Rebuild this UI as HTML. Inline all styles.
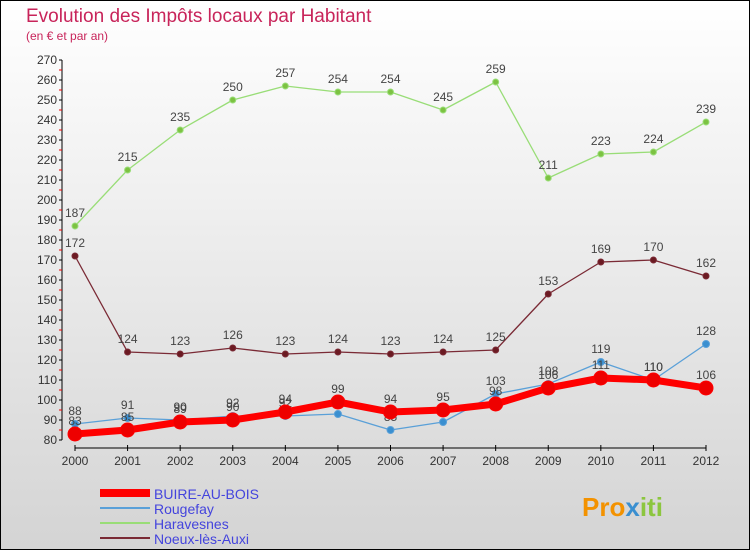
<!DOCTYPE html>
<html><head><meta charset="utf-8"><style>
body{margin:0;width:750px;height:550px;overflow:hidden;font-family:"Liberation Sans",sans-serif}
</style></head><body>
<svg id="c" width="750" height="550" xmlns="http://www.w3.org/2000/svg">
<defs><linearGradient id="bg" x1="0" y1="0" x2="0" y2="1"><stop offset="0" stop-color="#ffffff"/><stop offset="1" stop-color="#d4d4d4"/></linearGradient></defs>
<rect x="0.5" y="0.5" width="749" height="549" fill="url(#bg)" stroke="#000"/>
<text x="26" y="22" font-size="19" fill="#c8245a">Evolution des Impôts locaux par Habitant</text>
<text x="26" y="40" font-size="12" fill="#c8245a">(en € et par an)</text>
<g id="axes"></g><g id="series"></g><g id="legend"></g>
<text x="582" y="516" font-size="26" font-weight="bold" fill="#f39200">Pro<tspan fill="#3a8fd0">x</tspan><tspan fill="#8cc63f">iti</tspan></text>
</svg>
<script>
const years=[2000,2001,2002,2003,2004,2005,2006,2007,2008,2009,2010,2011,2012];
const buire=[83,85,89,90,94,99,94,95,98,106,111,110,106];
const rougefay=[88,91,90,92,92,93,85,89,103,108,119,110,128];
const haravesnes=[187,215,235,250,257,254,254,245,259,211,223,224,239];
const noeux=[172,124,123,126,123,124,123,124,125,153,169,170,162];
const yTicks=[80,90,100,110,120,130,140,150,160,170,180,190,200,210,220,230,240,250,260,270];
const NS="http://www.w3.org/2000/svg";
const X=i=>75+i*(706-75)/(years.length-1);
const Y=v=>440-(v-80)*2;
function mk(t,a,p){const e=document.createElementNS(NS,t);for(const k in a)e.setAttribute(k,a[k]);p.appendChild(e);return e;}
const ax=document.getElementById('axes');
let l=mk('line',{x1:62,y1:Y(270),x2:62,y2:440,stroke:'#000'},ax);


l=mk('line',{x1:75,y1:448,x2:706,y2:448,stroke:'#000'},ax);


yTicks.forEach(v=>{
 mk('line',{x1:59,y1:Y(v),x2:62,y2:Y(v),stroke:'#000'},ax);
 mk('line',{x1:59,y1:Y(v+5),x2:62,y2:Y(v+5),stroke:v<270?'#e00':'none'},ax);
 const t=mk('text',{x:57,y:Y(v)+4,'font-size':12,'text-anchor':'end',fill:'#333'},ax);t.textContent=v;
 
 
});
years.forEach((y,i)=>{
 mk('line',{x1:X(i),y1:445,x2:X(i),y2:451,stroke:'#000'},ax);
 const t=mk('text',{x:X(i),y:465,'font-size':12,'text-anchor':'middle',fill:'#333'},ax);t.textContent=y;
 
 
});
const sg=document.getElementById('series');
function series(vals,color,w,r,dot,name){
 const g=mk('g',{},sg);
 
 
 const p=mk('polyline',{points:vals.map((v,i)=>X(i)+','+Y(v)).join(' '),fill:'none',stroke:color,'stroke-width':w,'stroke-linejoin':'round'},g);
 
 
 vals.forEach((v,i)=>{
  const c=mk('circle',{cx:X(i),cy:Y(v),r:r,fill:dot,stroke:color,'stroke-width':1},g);
  
  
  const t=mk('text',{x:X(i),y:Y(v)-9,'font-size':12,'text-anchor':'middle',fill:'#444'},g);t.textContent=v;
  
  
 });
}
series(haravesnes,'#99dd77',1.3,3,'#7cc242','haravesnes');
series(noeux,'#7a2a35',1.3,3,'#6b1a22','noeux');
series(rougefay,'#5aa0d8',1.3,3.5,'#3a8fd0','rougefay');
series(buire,'#ff0000',7,7,'#ee0000','buire');
const lg=document.getElementById('legend');
const leg=[['BUIRE-AU-BOIS','#ff0000',8],['Rougefay','#5aa0d8',2],['Haravesnes','#99dd77',2],['Noeux-lès-Auxi','#7a2a35',2]];
leg.forEach((d,i)=>{
 const y=493+i*15;
 const g=mk('g',{},lg);
 
 
 mk('line',{x1:100,y1:y,x2:150,y2:y,stroke:d[1],'stroke-width':d[2]},g);
 const t=mk('text',{x:154,y:y+6,'font-size':14,fill:'#4444dd'},g);t.textContent=d[0];
});
</script>
</body></html>
